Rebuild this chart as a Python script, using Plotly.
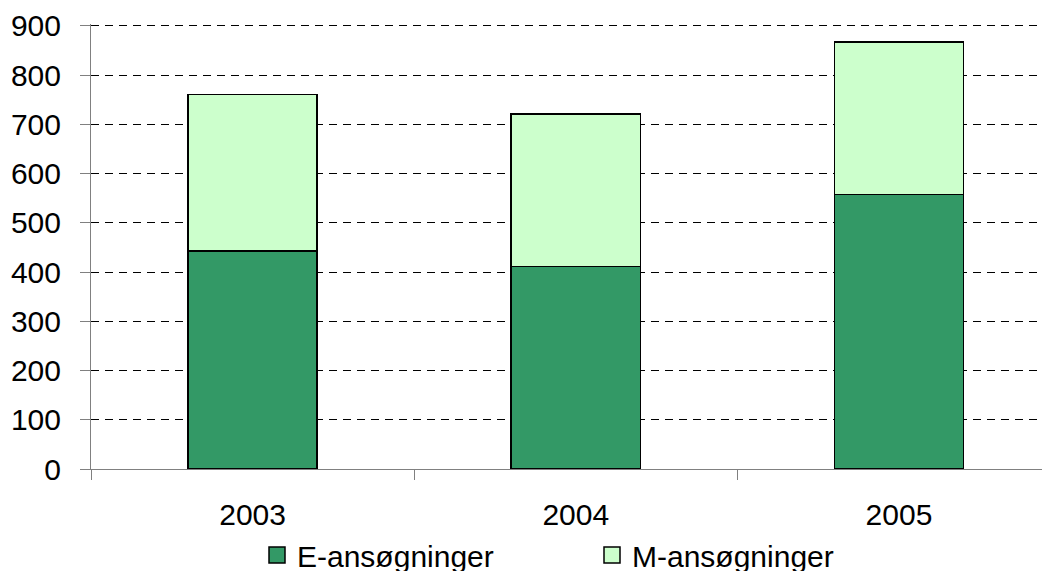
import plotly.graph_objects as go

years = ["2003", "2004", "2005"]
e_values = [443, 411, 558]
m_values = [318, 310, 309]
y_ticks = [0, 100, 200, 300, 400, 500, 600, 700, 800, 900]
series_names = ["E-ansøgninger", "M-ansøgninger"]

E_COLOR = "#339966"
M_COLOR = "#CCFFCC"
FONT = "Liberation Sans, Arial, sans-serif"

fig = go.Figure()
fig.add_trace(go.Bar(x=years, y=e_values, name=series_names[0], marker=dict(color=E_COLOR, line=dict(color="black", width=1.5)), width=0.4, showlegend=False))
fig.add_trace(go.Bar(x=years, y=m_values, name=series_names[1], marker=dict(color=M_COLOR, line=dict(color="black", width=1.5)), width=0.4, showlegend=False))

# legend entries with larger square swatches
fig.add_trace(go.Scatter(x=[None], y=[None], mode="markers", name=series_names[0],
                         marker=dict(symbol="square", size=16, color=E_COLOR, line=dict(color="black", width=1.5))))
fig.add_trace(go.Scatter(x=[None], y=[None], mode="markers", name=series_names[1],
                         marker=dict(symbol="square", size=16, color=M_COLOR, line=dict(color="black", width=1.5))))

fig.update_layout(
    width=1050, height=571,
    barmode="stack",
    plot_bgcolor="white", paper_bgcolor="white",
    margin=dict(l=83, r=0, t=16, b=110, autoexpand=False),
    font=dict(family=FONT, size=30, color="black"),
    legend=dict(orientation="h", x=249/1050, xanchor="left", xref="container",
                yref="container", y=24/571, yanchor="middle", traceorder="normal",
                font=dict(size=30), entrywidth=290, entrywidthmode="pixels",
                itemsizing="trace", bgcolor="rgba(0,0,0,0)"),
    xaxis=dict(type="category", range=[-0.5, 2.492], showline=True, linecolor="#808080", linewidth=1,
               ticks="outside", ticklen=10, tickcolor="#808080", tickson="boundaries",
               showgrid=False, tickfont=dict(size=30), ticklabelstandoff=19, automargin=False),
    yaxis=dict(range=[0, 904], tickvals=y_ticks, showline=True, linecolor="#808080", linewidth=1,
               ticks="outside", ticklen=10, tickcolor="#808080",
               showgrid=True, gridcolor="black", gridwidth=1, griddash="8px,6px",
               zeroline=False, tickfont=dict(size=30), ticklabelstandoff=13, automargin=False),
)

fig.write_html("out.html")
